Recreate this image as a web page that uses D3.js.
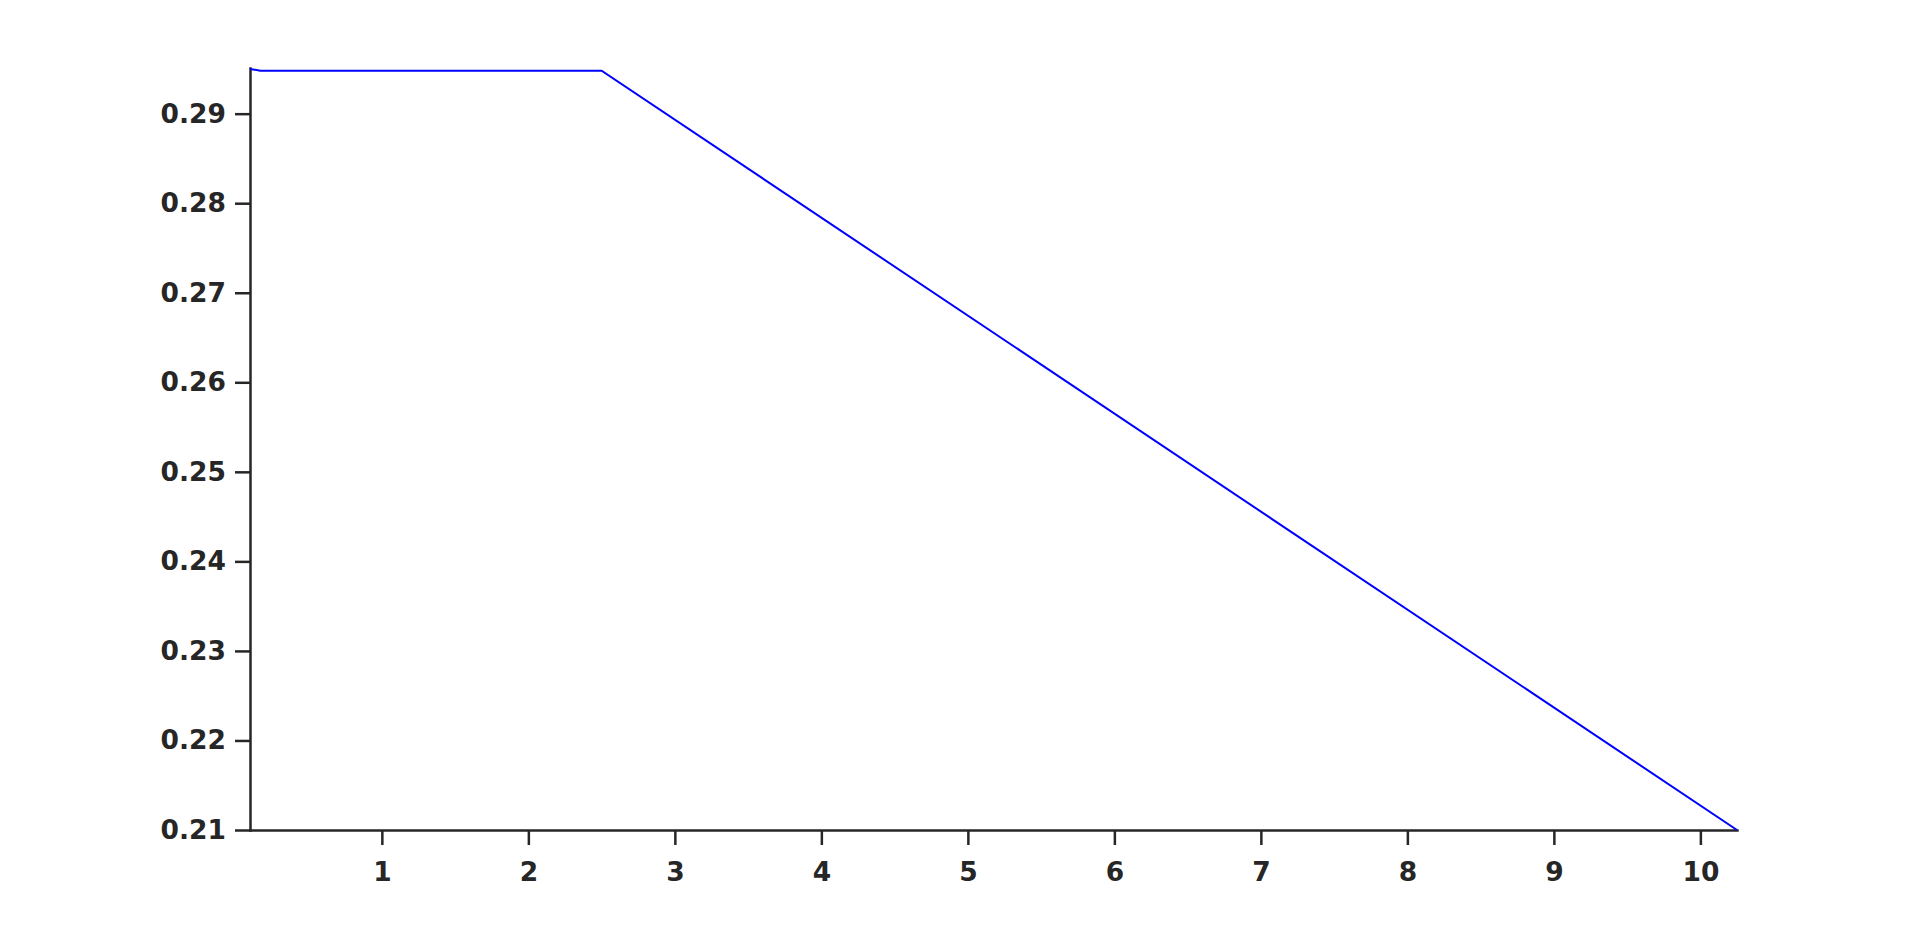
<!DOCTYPE html>
<html>
<head>
<meta charset="utf-8">
<script src="https://d3js.org/d3.v7.min.js"></script>
<style>
  body { margin: 0; background: #fff; }
  .axis text { font-family: "DejaVu Sans", sans-serif; font-weight: bold; font-size: 26.5px; fill: #262626; }
  .axis path, .axis line { stroke: #262626; stroke-width: 2.5; }
</style>
</head>
<body>
<div id="canvas"></div>
<script>
// line points
var xs = [0.1, 0.17, 2.5, 10.25];
var ys = [0.2950, 0.2948, 0.2948, 0.2100];
var xTicks = [1, 2, 3, 4, 5, 6, 7, 8, 9, 10];
var yTicks = [0.21, 0.22, 0.23, 0.24, 0.25, 0.26, 0.27, 0.28, 0.29];

var W = 1920, H = 935;
var m = {t:68, r:183, b:105, l:250};
var w = W - m.l - m.r,
    h = H - m.t - m.b;

var svg = d3.select('#canvas').append('svg')
    .attr('width', W)
    .attr('height', H);

var plot = svg.append('g')
    .attr('transform', 'translate(' + m.l + ',' + m.t + ')');

var scaleX = d3.scaleLinear().domain([0.1, 10.25]).range([0, w]);
var scaleY = d3.scaleLinear().domain([0.21, 0.2951]).range([h, 0]);

var pts = xs.map(function(x, i){ return [x, ys[i]]; });

var axisX = d3.axisBottom(scaleX)
    .tickValues(xTicks)
    .tickSize(15)
    .tickPadding(17)
    .tickSizeOuter(0)
    .tickFormat(d3.format('d'));
plot.append('g').attr('class','axis')
    .attr('transform','translate(0,' + h + ')')
    .call(axisX);

var axisY = d3.axisLeft(scaleY)
    .tickValues(yTicks)
    .tickSize(15)
    .tickPadding(9)
    .tickSizeOuter(0)
    .tickFormat(d3.format('.2f'));
plot.append('g').attr('class','axis')
    .call(axisY);

plot.selectAll('.axis .domain').attr('stroke-linecap','square');

var line = d3.line()
    .x(function(d){ return scaleX(d[0]); })
    .y(function(d){ return scaleY(d[1]); });

plot.append('path')
    .datum(pts)
    .attr('d', line)
    .attr('fill','none')
    .attr('stroke','#0000ff')
    .attr('stroke-width', 2);
</script>
</body>
</html>
